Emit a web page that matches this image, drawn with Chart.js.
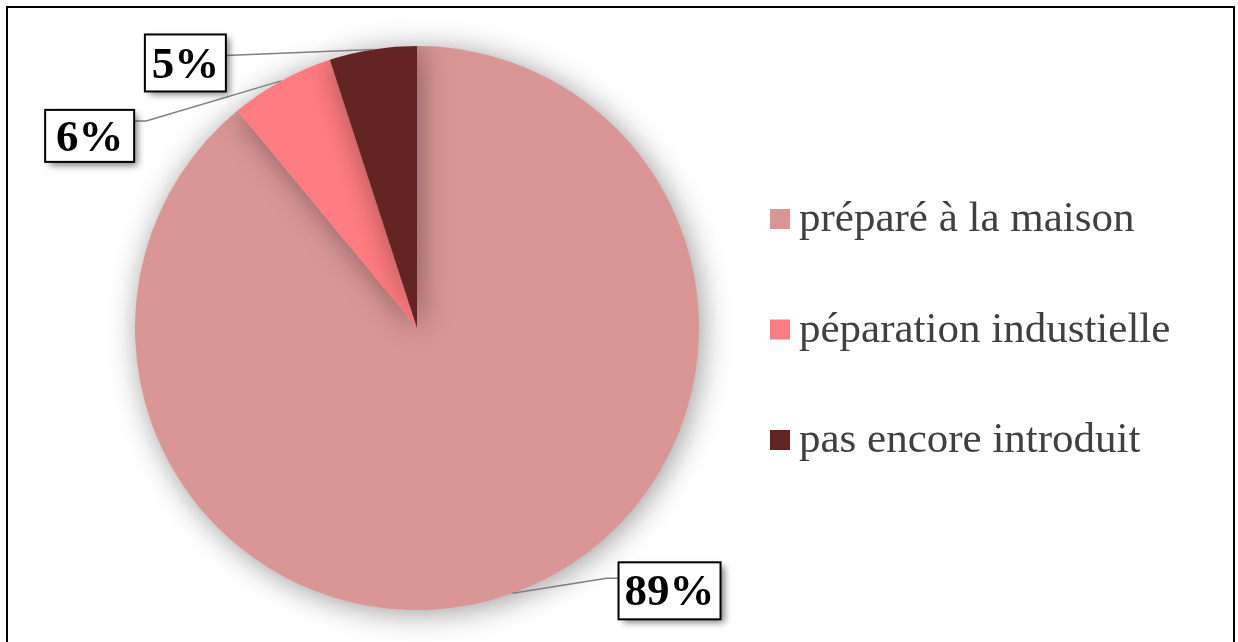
<!DOCTYPE html>
<html>
<head>
<meta charset="utf-8">
<script src="https://cdn.jsdelivr.net/npm/chart.js@4"></script>
<style>
  html, body { margin: 0; padding: 0; background: #fff; overflow: hidden; }
  #wrap { position: relative; width: 1238px; height: 642px; }
  #frame { position: absolute; left: 6px; top: 6px; width: 1229px; height: 650px; border: 2px solid #000; box-sizing: border-box; pointer-events: none; }
</style>
</head>
<body>
<div id="wrap">
  <canvas id="pie" width="1238" height="642"></canvas>
  <div id="frame"></div>
</div>
<script>
/* global Chart */

const categories = ['préparé à la maison', 'péparation industielle', 'pas encore introduit']
const values = [89, 6, 5]
const valueLabels = ['89%', '6%', '5%']
const colors = ['#D99694', '#FF7C80', '#632523']

// label box placement relative to the slice anchor (dx, dy of box top-left, and the elbow)
const labelBoxes = [
  { dx: 106, dy: -31, w: 102, h: 57, elbow: [94, -15], join: [106, -15] },
  { dx: -236, dy: 29, w: 89, h: 52, elbow: [-135, 40], join: [-147, 40] },
  { dx: -228, dy: -15, w: 81, h: 57, elbow: [-147, 6], join: [-147, 6] }
]

const pieShadow = {
  id: 'pieShadow',
  beforeDatasetsDraw (chart) {
    const ctx = chart.ctx
    ctx.save()
    ctx.shadowColor = 'rgba(0,0,0,0.4)'
    ctx.shadowBlur = 30
    ctx.shadowOffsetX = 3
    ctx.shadowOffsetY = 3
  },
  afterDatasetsDraw (chart) {
    chart.ctx.restore()
  }
}

const labelsAndLegend = {
  id: 'labelsAndLegend',
  afterDraw (chart) {
    const ctx = chart.ctx
    const arcs = chart.getDatasetMeta(0).data
    arcs.forEach(function (arc, i) {
      const p = arc.getProps(['x', 'y', 'startAngle', 'endAngle', 'outerRadius'], true)
      const mid = (p.startAngle + p.endAngle) / 2
      const ax = p.x + Math.cos(mid) * p.outerRadius
      const ay = p.y + Math.sin(mid) * p.outerRadius
      const b = labelBoxes[i]

      ctx.save()
      ctx.strokeStyle = '#7f7f7f'
      ctx.lineWidth = 1.5
      ctx.beginPath()
      ctx.moveTo(ax, ay)
      ctx.lineTo(ax + b.elbow[0], ay + b.elbow[1])
      ctx.lineTo(ax + b.join[0], ay + b.join[1])
      ctx.stroke()

      const bx = ax + b.dx
      const by = ay + b.dy
      ctx.shadowColor = 'rgba(0,0,0,0.5)'
      ctx.shadowBlur = 7
      ctx.shadowOffsetX = 4
      ctx.shadowOffsetY = 4
      ctx.fillStyle = '#fff'
      ctx.fillRect(bx, by, b.w, b.h)
      ctx.shadowColor = 'transparent'
      ctx.lineWidth = 2
      ctx.strokeStyle = '#000'
      ctx.strokeRect(bx, by, b.w, b.h)
      ctx.fillStyle = '#000'
      ctx.font = 'bold 45px "Liberation Serif", "Times New Roman", serif'
      ctx.textAlign = 'center'
      ctx.textBaseline = 'middle'
      ctx.fillText(valueLabels[i], bx + b.w / 2, by + b.h / 2 + 3)
      ctx.restore()
    })

    // legend on the right
    ctx.save()
    ctx.font = '43px "Liberation Serif", "Times New Roman", serif'
    ctx.textBaseline = 'middle'
    ctx.textAlign = 'left'
    chart.data.labels.forEach(function (lab, i) {
      const y = 219 + i * 110.5
      ctx.fillStyle = colors[i]
      ctx.fillRect(770, y - 10, 20, 20)
      ctx.fillStyle = '#404040'
      ctx.fillText(lab, 799, y + 1)
    })
    ctx.restore()
  }
}

window.addEventListener('load', function () {
  const ctx = document.getElementById('pie').getContext('2d')
  // eslint-disable-next-line no-unused-vars
  const pie = new Chart(ctx, {
    type: 'pie',
    data: {
      labels: categories,
      datasets: [
        {
          data: values,
          backgroundColor: colors,
          borderWidth: 0
        }
      ]
    },
    options: {
      responsive: false,
      animation: false,
      layout: { padding: { left: 135, right: 539, top: 46, bottom: 32 } },
      plugins: {
        legend: { display: false },
        tooltip: { enabled: false }
      }
    },
    plugins: [pieShadow, labelsAndLegend]
  })
})
</script>
</body>
</html>
